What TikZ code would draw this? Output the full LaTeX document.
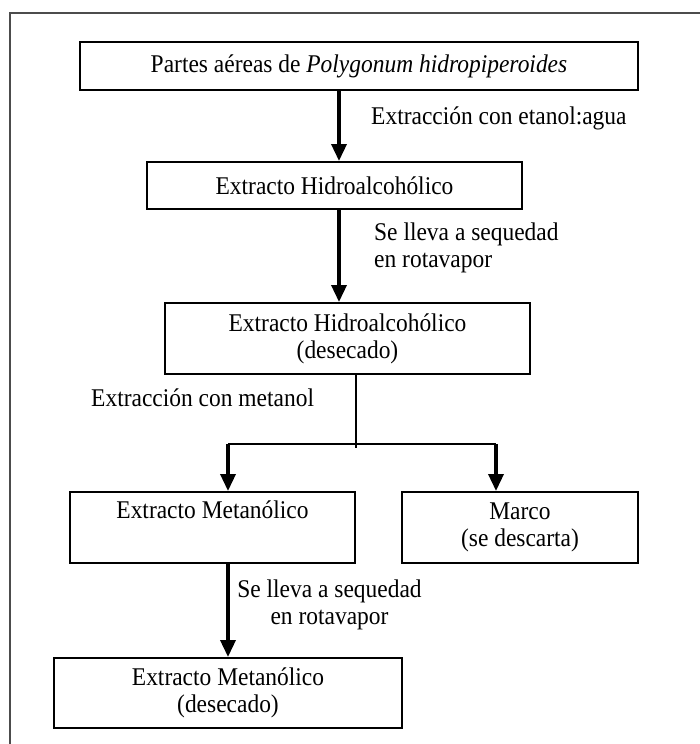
\documentclass[tikz,border=0pt]{standalone}
\usepackage{fontspec}
\setmainfont[FakeStretch=0.92]{Liberation Serif}
\usetikzlibrary{arrows.meta}
\begin{document}
\begin{tikzpicture}[x=1pt,y=-1pt,
  every node/.style={font=\fontsize{25.5}{27}\selectfont, inner sep=0pt},
  box/.style={draw=black, line width=2pt, align=center},
  lbl/.style={align=left},
  arr/.style={line width=3.5pt, -{Triangle[width=15pt,length=17pt]}},
  thin/.style={line width=1.5pt},
  frame/.style={draw=black!70, line width=1.6pt}]
\useasboundingbox (0,0) rectangle (700,744);
% outer frame (right and bottom edges outside the picture)
\draw[frame] (10,744) -- (10,13) -- (700,13);
% boxes
\node[box, minimum width=558pt, minimum height=48pt] (b1) at (359,66)
  {Partes aéreas de \textit{Polygonum hidropiperoides}};
\node[box, minimum width=375pt, minimum height=47pt] (b2) at (334.5,185.5)
  {Extracto Hidroalcohólico};
\node[box, minimum width=365pt, minimum height=71pt] (b3) at (347.5,338.5)
  {Extracto Hidroalcohólico\\(desecado)};
\node[box, minimum width=285pt, minimum height=71pt] (b4) at (212.5,527.5)
  {Extracto Metanólico\\\strut};
\node[box, minimum width=236pt, minimum height=71pt] (b5) at (520,527.5)
  {Marco\\(se descarta)};
\node[box, minimum width=348pt, minimum height=70pt] (b6) at (228,693)
  {Extracto Metanólico\\(desecado)};
% labels
\node[lbl, anchor=west] (l1) at (371,118) {Extracción con etanol:agua};
\node[lbl, anchor=west] (l2) at (374,248) {Se lleva a sequedad\\en rotavapor};
\node[lbl, anchor=west] (l3) at (91,398) {Extracción con metanol};
\node[align=center] (l4) at (329.5,605) {Se lleva a sequedad\\en rotavapor};
% helper coordinates
\coordinate (xa) at (339,0);
\coordinate (xm) at (356,0);
\coordinate (jend) at (356,448);
\coordinate (jl) at (228,444);
\coordinate (jr) at (496,444);
% connectors
\draw[arr] (b1.south -| xa) -- (b2.north -| xa);
\draw[arr] (b2.south -| xa) -- (b3.north -| xa);
\draw[thin] (b3.south -| xm) -- (jend);
\draw[line width=1.8pt] (jl) -- (jr);
\draw[arr] (jl) -- (b4.north -| jl);
\draw[arr] (jr) -- (b5.north -| jr);
\draw[arr] (b4.south -| jl) -- (b6.north -| jl);
\end{tikzpicture}
\end{document}
